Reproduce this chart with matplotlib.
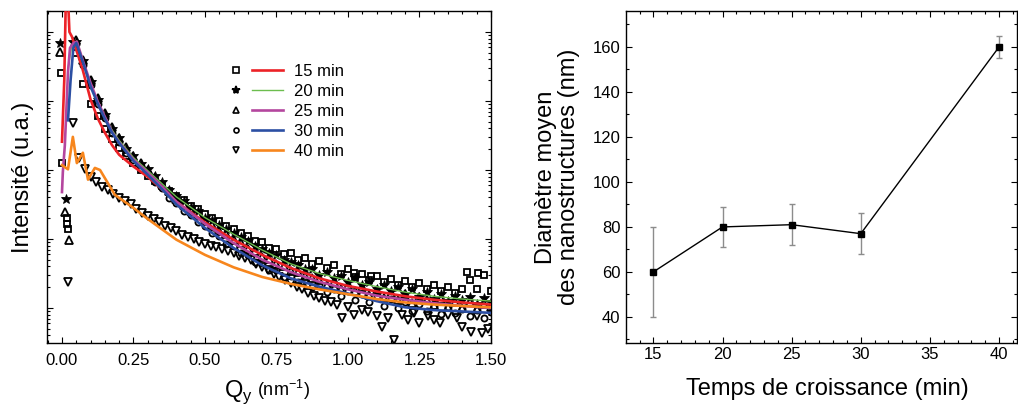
import numpy as np
import matplotlib
matplotlib.use("Agg")
import matplotlib.pyplot as plt
from matplotlib.lines import Line2D
from matplotlib.legend_handler import HandlerTuple
from matplotlib.ticker import LogLocator, NullFormatter, MultipleLocator

plt.rcParams['font.family'] = ['Liberation Sans', 'DejaVu Sans']
plt.rcParams['mathtext.fontset'] = 'custom'
plt.rcParams['mathtext.rm'] = 'Liberation Sans'

# ---- left panel : scattering profiles (log10 of intensity, a.u.) ----
labels = ['15 min', '20 min', '25 min', '30 min', '40 min']

q_pts = [0.050, 0.075, 0.100, 0.125, 0.150, 0.175, 0.200, 0.225, 0.250, 0.275,
         0.300, 0.325, 0.350, 0.375, 0.400, 0.425, 0.450, 0.475, 0.500, 0.525,
         0.550, 0.575, 0.600, 0.625, 0.650, 0.675, 0.700, 0.725, 0.750, 0.775,
         0.800, 0.825, 0.850, 0.875, 0.900, 0.925, 0.950, 0.975, 1.000, 1.025,
         1.050, 1.075, 1.100, 1.125, 1.150, 1.175, 1.200, 1.225, 1.250, 1.275,
         1.300, 1.325, 1.350, 1.375, 1.400, 1.425, 1.450, 1.475, 1.500]

logI_15 = [4.70, 4.25, 3.96, 3.78, 3.60, 3.45, 3.32, 3.20, 3.10, 3.00,
           2.92, 2.84, 2.77, 2.70, 2.62, 2.56, 2.48, 2.43, 2.36, 2.30,
           2.26, 2.19, 2.15, 2.08, 2.05, 1.97, 1.95, 1.87, 1.86, 1.78,
           1.79, 1.70, 1.73, 1.64, 1.68, 1.58, 1.62, 1.50, 1.56, 1.45,
           1.50, 1.40, 1.47, 1.38, 1.42, 1.33, 1.39, 1.31, 1.36, 1.27,
           1.33, 1.25, 1.31, 1.22, 1.28, 1.41, 1.27, 1.48, 1.24]
logI_20 = [4.86, 4.58, 4.27, 4.01, 3.80, 3.60, 3.46, 3.31, 3.20, 3.09,
           3.01, 2.91, 2.82, 2.71, 2.63, 2.55, 2.47, 2.40, 2.31, 2.27,
           2.20, 2.15, 2.08, 2.03, 1.97, 1.90, 1.86, 1.80, 1.77, 1.70,
           1.67, 1.62, 1.56, 1.57, 1.48, 1.52, 1.44, 1.47, 1.38, 1.43,
           1.33, 1.38, 1.28, 1.34, 1.24, 1.30, 1.21, 1.27, 1.16, 1.23,
           1.13, 1.21, 1.10, 1.18, 1.12, 1.16, 1.06, 1.14, 1.08]
logI_25 = [4.88, 4.60, 4.30, 4.05, 3.83, 3.62, 3.47, 3.33, 3.20, 3.10,
           3.00, 2.90, 2.79, 2.69, 2.58, 2.49, 2.41, 2.35, 2.26, 2.20,
           2.12, 2.07, 1.99, 1.94, 1.86, 1.82, 1.74, 1.71, 1.64, 1.61,
           1.53, 1.52, 1.46, 1.44, 1.40, 1.33, 1.37, 1.27, 1.33, 1.24,
           1.30, 1.19, 1.26, 1.14, 1.22, 1.12, 1.20, 1.07, 1.16, 1.11,
           1.04, 1.13, 1.02, 1.09, 1.00, 1.08, 0.98, 1.06, 1.02]
logI_30 = [4.82, 4.52, 4.23, 3.95, 3.76, 3.53, 3.41, 3.25, 3.15, 3.02,
           2.95, 2.82, 2.74, 2.60, 2.52, 2.40, 2.35, 2.24, 2.19, 2.08,
           2.04, 1.93, 1.90, 1.79, 1.77, 1.66, 1.65, 1.55, 1.55, 1.45,
           1.47, 1.37, 1.40, 1.30, 1.34, 1.23, 1.28, 1.17, 1.25, 1.12,
           1.20, 1.08, 1.17, 1.03, 1.13, 1.00, 1.09, 0.96, 1.06, 0.95,
           1.03, 0.92, 1.01, 0.93, 0.98, 0.88, 0.97, 0.86, 0.94]

# isolated points (beam stop region and outliers)
q_15_extra = [-0.004, 0.0, 0.017, 0.019, 0.021, 1.02, 1.08, 1.415, 1.455]
logI_15_extra = [4.41, 3.10, 2.30, 2.22, 2.15, 1.51, 1.46, 1.52, 1.51]
q_20_extra = [-0.007, 0.014, 0.038]
logI_20_extra = [4.84, 2.58, 4.86]
q_25_extra = [-0.007, 0.011, 0.024]
logI_25_extra = [4.71, 2.39, 1.99]

q_40 = [0.021, 0.038, 0.06, 0.08, 0.10, 0.12, 0.14, 0.16, 0.18, 0.20, 0.22, 0.24,
        0.26, 0.28, 0.30, 0.32, 0.34, 0.36, 0.38, 0.40, 0.42, 0.44, 0.46, 0.48,
        0.50, 0.52, 0.54, 0.56, 0.58, 0.60, 0.62, 0.64, 0.66, 0.68, 0.70, 0.72,
        0.74, 0.76, 0.78, 0.80, 0.82, 0.84, 0.86, 0.88, 0.90, 0.92, 0.94, 0.96,
        0.98, 1.00, 1.02, 1.05, 1.07, 1.10, 1.12, 1.14, 1.16, 1.19, 1.21, 1.23,
        1.25, 1.28, 1.30, 1.32, 1.35, 1.38, 1.40, 1.43, 1.45, 1.47, 1.49]
logI_40 = [1.38, 3.68, 3.18, 3.02, 2.90, 2.82, 2.76, 2.71, 2.65, 2.60, 2.55, 2.50,
           2.43, 2.38, 2.34, 2.29, 2.24, 2.19, 2.16, 2.11, 2.06, 2.03, 2.00, 1.96,
           1.93, 1.90, 1.88, 1.85, 1.82, 1.79, 1.76, 1.72, 1.69, 1.64, 1.60, 1.55,
           1.50, 1.45, 1.41, 1.36, 1.31, 1.27, 1.22, 1.18, 1.14, 1.10, 1.08, 1.05,
           0.86, 1.01, 0.90, 0.97, 0.94, 0.88, 0.72, 0.85, 0.54, 0.90, 0.82, 0.93,
           0.78, 0.88, 0.83, 0.78, 0.90, 0.85, 0.72, 0.65, 0.88, 0.64, 0.70]

# fitted curves
q_fit_15 = [0.0, 0.008, 0.014, 0.020, 0.026, 0.035, 0.045, 0.07, 0.1, 0.125, 0.15,
            0.175, 0.2, 0.25, 0.3, 0.35, 0.4, 0.5, 0.6, 0.7, 0.8, 0.9, 1.0, 1.1,
            1.2, 1.3, 1.4, 1.5]
fit_15 = [3.41, 4.30, 5.60, 5.60, 5.00, 4.93, 4.80, 4.49, 4.02, 3.75, 3.54,
          3.36, 3.22, 3.05, 2.90, 2.72, 2.54, 2.24, 1.99, 1.77, 1.58, 1.43, 1.32,
          1.24, 1.17, 1.12, 1.08, 1.05]
q_fit_20 = [0.02, 0.035, 0.052, 0.075, 0.1, 0.125, 0.15, 0.175, 0.2, 0.25, 0.3,
            0.35, 0.4, 0.5, 0.6, 0.7, 0.8, 0.9, 1.0, 1.1, 1.2, 1.3, 1.4, 1.5]
fit_20 = [4.45, 4.82, 4.87, 4.56, 4.24, 3.99, 3.77, 3.58, 3.43, 3.18, 2.99,
          2.80, 2.61, 2.31, 2.07, 1.84, 1.64, 1.50, 1.40, 1.31, 1.23, 1.17, 1.13, 1.10]
q_fit_25 = [0.0, 0.003, 0.01, 0.021, 0.028, 0.04, 0.052, 0.075, 0.1, 0.125, 0.15,
            0.175, 0.2, 0.25, 0.3, 0.35, 0.4, 0.5, 0.6, 0.7, 0.8, 0.9, 1.0, 1.1,
            1.2, 1.3, 1.4, 1.5]
fit_25 = [2.68, 2.97, 3.36, 4.42, 4.77, 4.84, 4.86, 4.56, 4.26, 3.99, 3.77,
          3.55, 3.40, 3.15, 2.96, 2.76, 2.54, 2.22, 1.94, 1.70, 1.52, 1.38, 1.27,
          1.18, 1.12, 1.07, 1.03, 1.00]
q_fit_30 = [0.021, 0.03, 0.04, 0.05, 0.075, 0.1, 0.125, 0.15, 0.175, 0.2, 0.25,
            0.3, 0.35, 0.4, 0.5, 0.6, 0.7, 0.8, 0.9, 1.0, 1.1, 1.2, 1.3, 1.4, 1.5]
fit_30 = [3.72, 4.30, 4.78, 4.84, 4.54, 4.21, 3.96, 3.74, 3.54, 3.39, 3.13,
          2.93, 2.72, 2.50, 2.16, 1.87, 1.62, 1.43, 1.31, 1.21, 1.10, 1.01, 0.97,
          0.95, 0.93]
q_fit_40 = [0.0, 0.021, 0.038, 0.052, 0.073, 0.091, 0.115, 0.133, 0.185, 0.25,
            0.3, 0.35, 0.4, 0.5, 0.6, 0.7, 0.8, 0.9, 1.0, 1.1, 1.2, 1.3, 1.4, 1.5]
fit_40 = [3.07, 3.01, 3.48, 3.10, 3.25, 2.86, 3.03, 3.00, 2.64, 2.45,
          2.29, 2.14, 1.99, 1.77, 1.59, 1.45, 1.35, 1.27, 1.20, 1.13, 1.08, 1.05,
          1.03, 1.01]

# ---- right panel : mean diameter vs growth time ----
temps = [15, 20, 25, 30, 40]
diametre = [60, 80, 81, 77, 160]
erreur = [20, 9, 9, 9, 5]

colors = ['#ec2227', '#6cbd4e', '#b4469e', '#2c4fa3', '#f7861d']

fig = plt.figure(figsize=(10.18, 4.05), dpi=100)
W, H = 1018., 405.
ax1 = fig.add_axes([47 / W, 1 - 343 / H, 444 / W, 332 / H])
ax2 = fig.add_axes([626 / W, 1 - 343 / H, 391 / W, 332 / H])

def p(v):
    return 10 ** np.asarray(v, dtype=float)

mk = dict(ls='none', mfc='none', mec='k', mew=1.3, zorder=2)
ax1.plot(q_pts + q_15_extra, p(logI_15 + logI_15_extra), marker='s', ms=5.0, **mk)
ax1.plot(q_pts + q_20_extra, p(logI_20 + logI_20_extra), marker='*', ms=7,
         ls='none', mfc='k', mec='k', mew=0.6, zorder=2)
ax1.plot(q_pts + q_25_extra, p(logI_25 + logI_25_extra), marker='^', ms=5.6, **mk)
ax1.plot(q_pts, p(logI_30), marker='o', ms=4.4, **mk)
ax1.plot(q_40, p(logI_40), marker='v', ms=5.8, **mk)

fits = [(q_fit_15, fit_15, 1.9), (q_fit_20, fit_20, 1.0), (q_fit_25, fit_25, 1.9),
        (q_fit_30, fit_30, 1.9), (q_fit_40, fit_40, 1.9)]
line_handles = []
for (qf, lf, lw), c in zip(fits, colors):
    ln, = ax1.plot(qf, p(lf), color=c, lw=lw, zorder=3)
    line_handles.append(ln)

ax1.set_yscale('log')
ax1.set_xlim(-0.0524, 1.5)
ax1.set_ylim(10 ** 0.493, 10 ** 5.304)
ax1.yaxis.set_major_locator(LogLocator(base=10, numticks=10))
ax1.yaxis.set_minor_locator(LogLocator(base=10, subs=np.arange(2, 10), numticks=20))
ax1.yaxis.set_major_formatter(NullFormatter())
ax1.yaxis.set_minor_formatter(NullFormatter())
ax1.xaxis.set_major_locator(MultipleLocator(0.25))
ax1.xaxis.set_minor_locator(MultipleLocator(0.05))
ax1.xaxis.set_major_formatter(lambda v, pos: f'{v:.2f}')
ax1.tick_params(which='both', direction='in', top=True, right=True, width=0.8)
ax1.tick_params(which='major', length=4.5, labelsize=12)
ax1.tick_params(which='minor', length=2.3)
ax1.tick_params(axis='x', pad=7)

ax1.set_ylabel('Intensité (u.a.)', fontsize=17)
ax1.yaxis.set_label_coords(-0.03, 0.5)
ax1.set_xlabel(r'Q$_{\mathregular{y}}$', fontsize=17)
ax1.xaxis.set_label_coords(0.43, -0.105)
ax1.annotate(r' (nm$^{\mathregular{-1}}$)', xy=(1, 0.12), xycoords=ax1.xaxis.label,
             ha='left', va='bottom', fontsize=13)

markers = [dict(marker='s', ms=4.0, mfc='none'), dict(marker='*', ms=6, mfc='k'),
           dict(marker='^', ms=4.6, mfc='none'), dict(marker='o', ms=3.6, mfc='none'),
           dict(marker='v', ms=4.6, mfc='none')]
handles = []
for m, ln in zip(markers, line_handles):
    mh = Line2D([], [], ls='none', mec='k', mew=1.2, **m)
    handles.append((mh, ln))
ax1.legend(handles, labels, handler_map={tuple: HandlerTuple(ndivide=None, pad=0.0)},
           handlelength=3.7, handletextpad=0.7, labelspacing=0.3, fontsize=12,
           frameon=False, loc='upper left', borderpad=0, borderaxespad=0,
           bbox_to_anchor=(221 / W, 1 - 64 / H), bbox_transform=fig.transFigure)

# right panel
ax2.errorbar(temps, diametre, yerr=erreur, fmt='none', ecolor='#8c8c8c',
             elinewidth=1.0, capsize=2.5, capthick=1.0, zorder=1)
ax2.plot(temps, diametre, color='k', lw=1.0, marker='s', ms=5, mfc='k', mec='k',
         zorder=2)
ax2.set_xlim(13.02, 41.3)
ax2.set_ylim(28.4, 176)
ax2.xaxis.set_major_locator(MultipleLocator(5))
ax2.xaxis.set_minor_locator(MultipleLocator(1))
ax2.yaxis.set_major_locator(MultipleLocator(20))
ax2.yaxis.set_minor_locator(MultipleLocator(10))
ax2.tick_params(which='both', direction='in', top=True, right=True, width=0.8)
ax2.tick_params(which='major', length=4.5, labelsize=12)
ax2.tick_params(which='minor', length=2.3)
ax2.tick_params(axis='x', pad=3)
ax2.tick_params(axis='y', pad=4)
ax2.set_xlabel('Temps de croissance (min)', fontsize=17)
ax2.xaxis.set_label_coords(0.515, -0.105)
ax2.set_ylabel('Diamètre moyen\ndes nanostructures (nm)', fontsize=17,
               linespacing=1.05)
ax2.yaxis.set_label_coords(-0.118, 0.5)

for ax in (ax1, ax2):
    for s in ax.spines.values():
        s.set_linewidth(1.0)

fig.savefig('out.png', dpi=100)
